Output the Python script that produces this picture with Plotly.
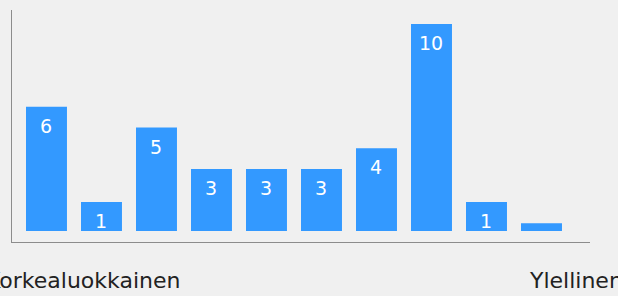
import plotly.graph_objects as go

# Data
steps = list(range(1, 11))                 # rating steps, left to right
counts = [6, 1, 5, 3, 3, 3, 4, 10, 1, 0]   # answers per step
low_label = "Korkealuokkainen"
high_label = "Ylellinen"

# display rule of the original: small bars get a minimum visible height
MIN_VISIBLE = 1.4
ZERO_VISIBLE = 0.38
heights = [(max(c, MIN_VISIBLE) if c > 0 else ZERO_VISIBLE) for c in counts]

BLUE = "#3399ff"
BG = "#f0f0f0"
FONT = "DejaVu Sans"

fig = go.Figure()
fig.add_trace(go.Bar(
    x=steps, y=heights, width=0.745,
    marker=dict(color=BLUE, line=dict(width=0)),
    hoverinfo="skip",
))

annotations = []
for s, c, h in zip(steps, counts, heights):
    if c > 0:
        annotations.append(dict(
            x=s, y=h, xref="x", yref="y", text=str(c), showarrow=False,
            yanchor="top", yshift=-6,
            font=dict(family=FONT, size=19, color="white"),
        ))
annotations.append(dict(
    x=0.294, y=-0.166, xref="paper", yref="paper", text=low_label,
    showarrow=False, xanchor="right", yanchor="middle",
    font=dict(family=FONT, size=22, color="#222222"),
))
annotations.append(dict(
    x=0.891, y=-0.166, xref="paper", yref="paper", text=high_label,
    showarrow=False, xanchor="left", yanchor="middle",
    font=dict(family=FONT, size=22, color="#222222"),
))

fig.update_layout(
    width=618, height=296,
    margin=dict(l=12, r=28, t=10, b=54),
    paper_bgcolor=BG, plot_bgcolor=BG,
    showlegend=False,
    annotations=annotations,
    xaxis=dict(range=[steps[0] - 0.627, steps[-1] + 0.882], showgrid=False,
               zeroline=False, showticklabels=False, ticks="",
               showline=True, linecolor="#8c8c8c", linewidth=1),
    yaxis=dict(range=[-0.531, 10.676], showgrid=False, zeroline=False,
               showticklabels=False, ticks="",
               showline=True, linecolor="#8c8c8c", linewidth=1),
)

fig.write_html(
    "out.html",
    config={"displayModeBar": False},
    post_script="document.body.style.margin='0';document.body.style.background='%s';" % BG,
)
